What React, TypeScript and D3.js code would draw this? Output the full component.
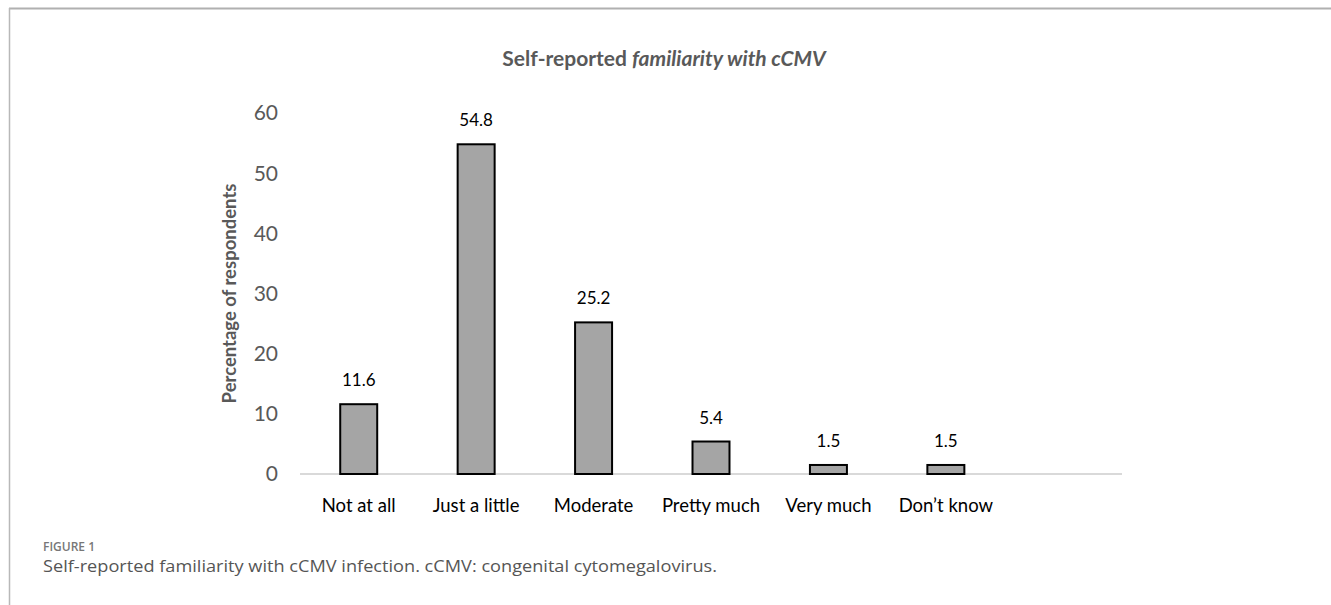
import * as d3 from "d3";
import { useRef, useEffect } from "react";

const categories = ["Not at all", "Just a little", "Moderate", "Pretty much", "Very much", "Don’t know"];
const values = [11.6, 54.8, 25.2, 5.4, 1.5, 1.5];
const yTicks = [0, 10, 20, 30, 40, 50, 60];

const App = () => {
  const svgref = useRef<SVGSVGElement>(null);

  useEffect(() => {
    const w = 1331;
    const h = 605;
    const svg = d3.select(svgref.current);
    svg.selectAll("*").remove();

    // frame lines
    svg.append("line").attr("x1", 9).attr("x2", w).attr("y1", 8.5).attr("y2", 8.5)
      .attr("stroke", "#b0b0b0").attr("stroke-width", 2);
    svg.append("line").attr("x1", 9.5).attr("x2", 9.5).attr("y1", 8).attr("y2", h)
      .attr("stroke", "#b8b8b8").attr("stroke-width", 1.5);

    // 7 bands, the last one left empty like the original
    const x = d3.scaleBand<string>()
      .domain([...categories, ""])
      .range([300, 1122])
      .paddingInner(0.685)
      .paddingOuter(0.3425);
    const y = d3.scaleLinear().domain([0, 60]).range([474, 113]);

    const font = "Lato, 'Open Sans', sans-serif";

    svg.append("text")
      .attr("x", 664).attr("y", 66)
      .attr("text-anchor", "middle")
      .attr("font-family", font).attr("font-size", 21).attr("font-weight", "bold")
      .attr("fill", "#595959")
      .call((t) => {
        t.append("tspan").text("Self-reported ");
        t.append("tspan").attr("font-style", "italic").text("familiarity with cCMV");
      });

    svg.append("line")
      .attr("x1", 300).attr("x2", 1122)
      .attr("y1", y(0)).attr("y2", y(0))
      .attr("stroke", "#d9d9d9").attr("stroke-width", 2);

    svg.selectAll(".ytick")
      .data(yTicks)
      .join("text")
      .attr("x", 278)
      .attr("y", (d) => y(d))
      .attr("dy", "0.35em")
      .attr("text-anchor", "end")
      .attr("font-family", font).attr("font-size", 21)
      .attr("fill", "#595959")
      .text((d) => d);

    svg.append("text")
      .attr("transform", `translate(236,${y(30)}) rotate(-90)`)
      .attr("text-anchor", "middle")
      .attr("font-family", font).attr("font-size", 18.5).attr("font-weight", "bold")
      .attr("fill", "#595959")
      .text("Percentage of respondents");

    svg.selectAll(".bar")
      .data(values)
      .join("rect")
      .attr("x", (d, i) => x(categories[i])!)
      .attr("y", (d) => y(d))
      .attr("width", x.bandwidth())
      .attr("height", (d) => y(0) - y(d))
      .attr("fill", "#a5a5a5")
      .attr("stroke", "#000")
      .attr("stroke-width", 2);

    svg.selectAll(".val")
      .data(values)
      .join("text")
      .attr("x", (d, i) => x(categories[i])! + x.bandwidth() / 2)
      .attr("y", (d) => y(d) - 18)
      .attr("text-anchor", "middle")
      .attr("font-family", font).attr("font-size", 17)
      .attr("fill", "#000")
      .text((d) => d.toFixed(1));

    svg.selectAll(".xlab")
      .data(categories)
      .join("text")
      .attr("x", (d) => x(d)! + x.bandwidth() / 2)
      .attr("y", 512)
      .attr("text-anchor", "middle")
      .attr("font-family", font).attr("font-size", 18.5)
      .attr("fill", "#000")
      .text((d) => d);

    svg.append("text")
      .attr("x", 43).attr("y", 551)
      .attr("font-family", "'Open Sans', sans-serif").attr("font-size", 12).attr("font-weight", 600)
      .attr("fill", "#777")
      .text("FIGURE 1");

    svg.append("text")
      .attr("x", 43).attr("y", 572)
      .attr("font-family", "'Open Sans', sans-serif").attr("font-size", 15.5)
      .attr("fill", "#555")
      .attr("textLength", 674)
      .attr("lengthAdjust", "spacingAndGlyphs")
      .text("Self-reported familiarity with cCMV infection. cCMV: congenital cytomegalovirus.");
  }, []);

  return (
    <div style={{ position: "absolute", left: 0, top: 0 }}>
      <svg ref={svgref} width={1331} height={605} style={{ display: "block", background: "#fff" }}></svg>
    </div>
  );
};

export default App;
